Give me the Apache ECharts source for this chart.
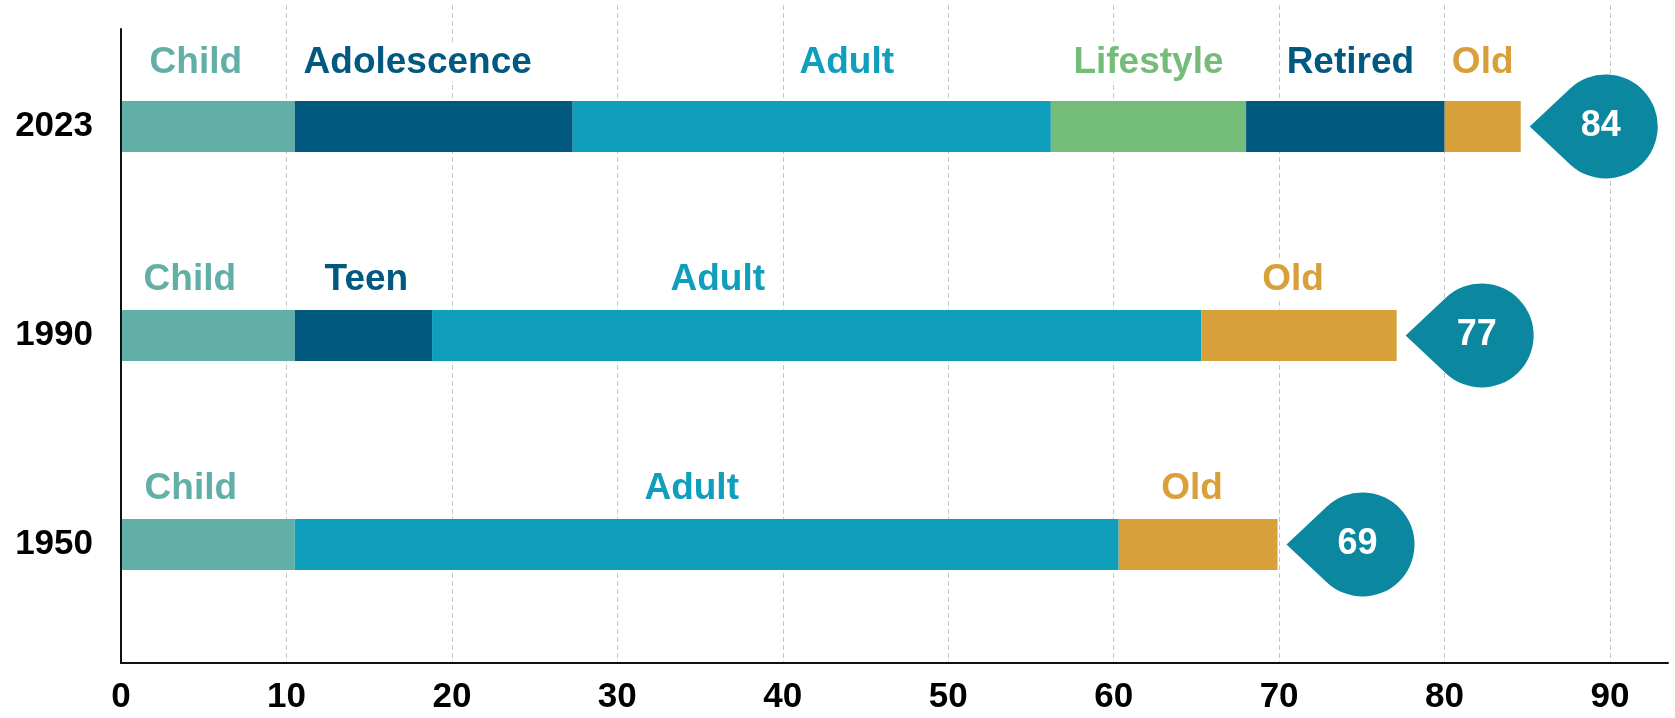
<!DOCTYPE html>
<html>
<head>
<meta charset="utf-8">
<script src="https://cdn.jsdelivr.net/npm/echarts@6/dist/echarts.min.js"></script>
<style>
  html, body { margin: 0; padding: 0; background: #fff; }
  #chart { width: 1675px; height: 718px; }
</style>
</head>
<body>
<div id="chart"></div>
<script>
// life stages per year (years of age spent in each stage)
const years = ["2023", "1990", "1950"];
const child = [10.5, 10.5, 10.5];
const youth = [16.8, 8.3, "-"];
const youthNames = ["Adolescence", "Teen", ""];
const adult = [28.9, 46.5, 49.8];
const lifestyle = [11.8, "-", "-"];
const retired = [12.0, "-", "-"];
const old = [4.6, 11.8, 9.6];
const expectancy = [84, 77, 69];

const font = '"Liberation Sans", Arial, sans-serif';
const X_MAX = 93.5;

// small label nudges (px) so names sit like in the original layout
const labelDx = {
  Child: [-12, -18, -17],
  Adolescence: [-16, 3, 0],
  Adult: [35, -99, -15],
  Lifestyle: [0, 0, 0],
  Retired: [5, 0, 0],
  Old: [0, -6, -6],
};
const rowDy = [-8, 0, 0];

const stages = [
  { name: "Child", data: child, color: "#62afa7" },
  { name: "Adolescence", data: youth, color: "#02597f", names: youthNames },
  { name: "Adult", data: adult, color: "#0f9ebc" },
  { name: "Lifestyle", data: lifestyle, color: "#74bd79" },
  { name: "Retired", data: retired, color: "#02597f" },
  { name: "Old", data: old, color: "#d8a03a" },
];

const num = (v) => (typeof v === "number" ? v : 0);
const totals = years.map((y, i) => stages.reduce((s, st) => s + num(st.data[i]), 0));

let chartInit = echarts.init(document.getElementById("chart"));

const barSeries = stages.map((st) => ({
  name: st.name,
  type: "bar",
  stack: "life",
  xAxisIndex: 2,
  yAxisIndex: 2,
  barWidth: 51,
  itemStyle: { color: st.color },
  data: st.data.map((v, i) =>
    v === "-" ? "-" : { value: v, label: { offset: [labelDx[st.name][i], rowDy[i]] } }
  ),
  label: {
    show: true,
    position: "top",
    distance: 12,
    formatter: (p) => (st.names ? st.names[p.dataIndex] : st.name),
    color: st.color,
    fontSize: 37,
    fontWeight: "bold",
    fontFamily: font,
    backgroundColor: "#fff",
    padding: [0, 6],
  },
  z: 2,
}));

let option = {
  animation: false,
  grid: [
    // gridlines + tick labels
    { left: 121, right: 65, top: 5, bottom: 55 },
    // frame lines
    { left: 121, right: 7, top: 29, bottom: 55 },
    // bars
    { left: 121, right: 7, top: 22, bottom: 69 },
  ],
  xAxis: [
    {
      gridIndex: 0,
      type: "value",
      min: 0,
      max: 90,
      interval: 10,
      axisLine: { show: false },
      axisTick: { show: false },
      axisLabel: {
        margin: 17,
        color: "#000",
        fontSize: 35,
        fontWeight: "bold",
        fontFamily: font,
      },
      splitLine: {
        show: true,
        showMinLine: false,
        lineStyle: { color: "#c8c8c8", width: 1, type: [5, 3] },
      },
    },
    {
      gridIndex: 1,
      type: "value",
      min: 0,
      max: X_MAX,
      axisLine: { show: true, onZero: false, lineStyle: { color: "#111", width: 2 } },
      axisTick: { show: false },
      axisLabel: { show: false },
      splitLine: { show: false },
      z: 5,
    },
    {
      gridIndex: 2,
      type: "value",
      min: 0,
      max: X_MAX,
      show: false,
    },
  ],
  yAxis: [
    { gridIndex: 0, type: "value", min: 0, max: 1, show: false },
    {
      gridIndex: 1,
      type: "value",
      min: 0,
      max: 1,
      axisLine: { show: true, onZero: false, lineStyle: { color: "#111", width: 2 } },
      axisTick: { show: false },
      axisLabel: { show: false },
      splitLine: { show: false },
      z: 5,
    },
    {
      gridIndex: 2,
      type: "category",
      inverse: true,
      data: years,
      axisLine: { show: false },
      axisTick: { show: false },
      axisLabel: {
        margin: 28,
        color: "#000",
        fontSize: 35,
        fontWeight: "bold",
        fontFamily: font,
      },
    },
  ],
  series: [
    ...barSeries,
    {
      name: "Expectancy",
      type: "scatter",
      xAxisIndex: 2,
      yAxisIndex: 2,
      symbol: "path://M0 52 L40.4 14.1 A52 52 0 1 1 40.4 89.9 Z",
      symbolSize: [128, 104],
      symbolOffset: [73, 0],
      itemStyle: { color: "#0b87a0", opacity: 1 },
      data: years.map((y, i) => [totals[i], y]),
      label: {
        show: true,
        position: "inside",
        offset: [7, 0],
        formatter: (p) => String(expectancy[p.dataIndex]),
        color: "#fff",
        fontSize: 36,
        fontWeight: "bold",
        fontFamily: font,
      },
      z: 4,
    },
  ],
};
chartInit.setOption(option, true);
</script>
</body>
</html>
